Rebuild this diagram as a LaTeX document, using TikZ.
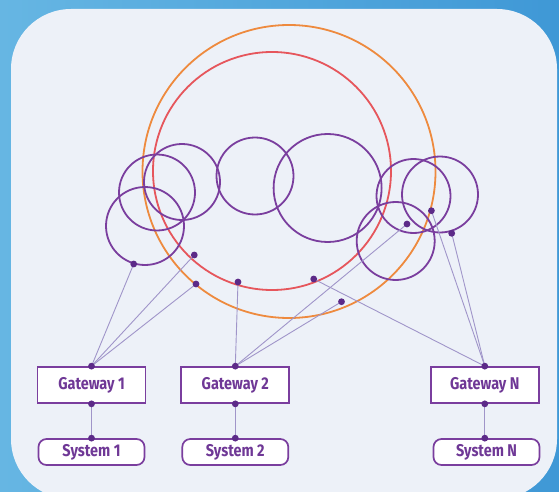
\documentclass[tikz,border=0pt]{standalone}
\usepackage{fontspec}
\newfontfamily\labelfont{Fira Sans}[FakeStretch=0.85]
\definecolor{skyL}{HTML}{66B6E3}
\definecolor{skyR}{HTML}{3F98D6}
\definecolor{panelc}{HTML}{EDF1F8}
\definecolor{purp}{HTML}{7A3E9E}
\definecolor{purptext}{HTML}{6F3896}
\definecolor{dotc}{HTML}{5C2A88}
\definecolor{orangec}{HTML}{EE8A3E}
\definecolor{redc}{HTML}{E6565C}
\definecolor{linkc}{HTML}{A095C9}
\tikzset{
  ring/.style={draw=purp, line width=1.8pt},
  gatebox/.style={draw=purp, line width=1.7pt, fill=white, minimum width=108pt, minimum height=36pt, inner sep=0pt, font=\labelfont\bfseries\fontsize{17}{18}\selectfont, text=purptext},
  sysbox/.style={draw=purp, line width=1.7pt, fill=white, rounded corners=8pt, minimum width=106pt, minimum height=26pt, inner sep=0pt, font=\labelfont\bfseries\fontsize{17}{18}\selectfont, text=purptext},
  link/.style={draw=linkc, line width=0.9pt},
  pin/.style={fill=dotc},
}
\begin{document}
\begin{tikzpicture}[x=1pt,y=-1pt]
\useasboundingbox (0,0) rectangle (559,492);
\shade[left color=skyL, right color=skyR] (0,0) rectangle (559,492);
\fill[panelc, rounded corners=60pt] (11,9) rectangle (557,499);

% big rings
\draw[orangec, line width=1.8pt] (289,171.5) circle[radius=146.5];
\draw[redc, line width=1.8pt] (272,171) circle[radius=119];

% purple rings
\draw[ring] (145,226) circle[radius=39];
\draw[ring] (157,192.5) circle[radius=38];
\draw[ring] (182,182) circle[radius=38];
\draw[ring] (255,176) circle[radius=38.5];
\draw[ring] (327.6,188) circle[radius=54];
\draw[ring] (413.5,196) circle[radius=37];
\draw[ring] (440,194.5) circle[radius=38];
\draw[ring] (395.7,241) circle[radius=39];

% connection points on rings
\coordinate (d1) at (133.7,264);
\coordinate (d2) at (194.3,255);
\coordinate (d3) at (196,284);
\coordinate (d4) at (238,282);
\coordinate (d5) at (313.7,279);
\coordinate (d6) at (341.5,301.7);
\coordinate (d7) at (407,224);
\coordinate (d8) at (431.4,210.7);
\coordinate (d9) at (451.7,233.3);

% gateways and systems
\node[gatebox] (g1) at (91.5,385) {Gateway 1};
\node[gatebox] (g2) at (235.3,385) {Gateway 2};
\node[gatebox] (gN) at (484.8,385) {Gateway N};
\node[sysbox] (s1) at (91.5,452) {System 1};
\node[sysbox] (s2) at (235.3,452) {System 2};
\node[sysbox] (sN) at (486.5,452) {System N};

% links
\draw[link] (g1.north) -- (d1);
\draw[link] (g1.north) -- (d2);
\draw[link] (g1.north) -- (d3);
\draw[link] (g2.north) -- (d4);
\draw[link] (g2.north) -- (d7);
\draw[link] (g2.north) -- (d6);
\draw[link] (gN.north) -- (d5);
\draw[link] (gN.north) -- (d8);
\draw[link] (gN.north) -- (d9);
\draw[link] (g1.south) -- (s1.north);
\draw[link] (g2.south) -- (s2.north);
\draw[link] (gN.south) -- (gN.south |- sN.north);

% pins
\foreach \p in {d1,d2,d3,d4,d5,d6,d7,d8,d9,g1.north,g2.north,gN.north,g1.south,g2.south,gN.south,s1.north,s2.north}
  \fill[pin] (\p) circle[radius=3.4];
\fill[pin] (gN.south |- sN.north) circle[radius=3.4];
\end{tikzpicture}
\end{document}
